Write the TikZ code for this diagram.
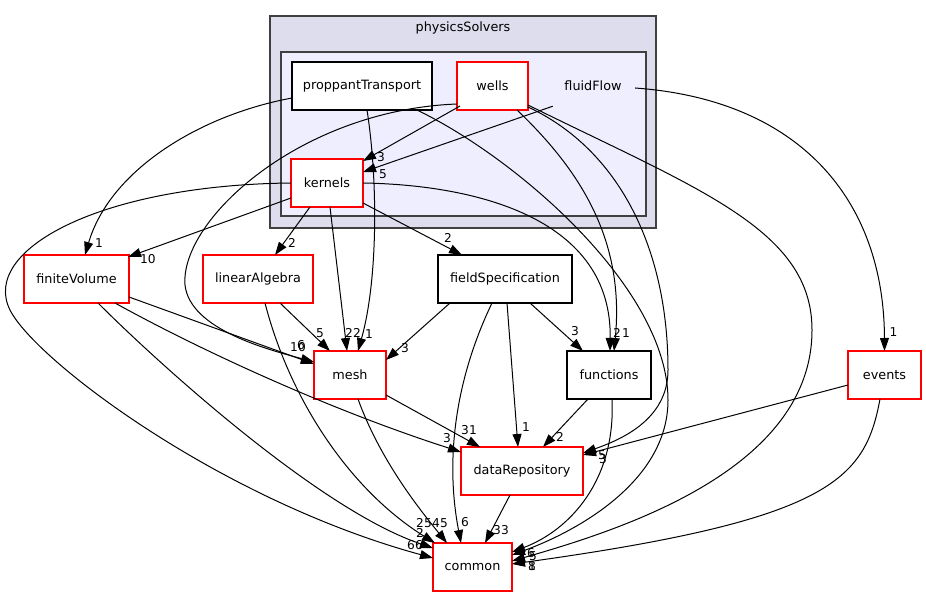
\documentclass[tikz,border=0pt]{standalone}
\usepackage{fontspec}
\setmainfont{DejaVu Sans}
\usetikzlibrary{positioning,arrows.meta}
\definecolor{clusterout}{HTML}{DDDDEE}
\definecolor{clusterin}{HTML}{EEEEFF}
\definecolor{clusterline}{HTML}{404040}
\tikzstyle{dirbox} = [draw=black, fill=white, line width=1.2pt, rectangle,
    minimum height=48pt, inner sep=0pt, outer sep=0pt, font=\fontsize{12.8}{15}\selectfont]
\tikzstyle{reddir} = [dirbox, draw=red]
\tikzstyle{cluster} = [draw=clusterline, line width=1.6pt]
\tikzstyle{dep} = [draw=black, line width=1pt, -{Triangle[length=13pt,width=9pt]}]
\tikzstyle{cnt} = [inner sep=0pt, font=\fontsize{12.2}{14}\selectfont]

\begin{document}
\begin{tikzpicture}[x=1pt,y=-1pt]
\useasboundingbox (0,0) rectangle (926,596);

% physicsSolvers / fluidFlow
\filldraw [cluster, fill=clusterout] (270,16) rectangle (656,228);
\node [cnt, font=\fontsize{12.8}{15}\selectfont] (psTitle) at (463,28) {physicsSolvers};
\filldraw [cluster, fill=clusterin] (281,52) rectangle (646,216);

\node [dirbox, minimum width=140pt] (proppantTransport) at (362,86) {proppantTransport};
\node [reddir, minimum width=71pt, right=25pt of proppantTransport] (wells) {wells};
\node [cnt, font=\fontsize{12.8}{15}\selectfont, minimum width=70pt, minimum height=48pt] (fluidFlow) at (593,86) {fluidFlow};
\node [reddir, minimum width=72pt] (kernels) at (327,183) {kernels};

\node [reddir, minimum width=105pt] (finiteVolume) at (76.5,279) {finiteVolume};
\node [reddir, minimum width=110pt, right=74pt of finiteVolume] (linearAlgebra) {linearAlgebra};
\node [dirbox, minimum width=134pt, right=125pt of linearAlgebra] (fieldSpecification) {fieldSpecification};

\node [reddir, minimum width=72pt] (mesh) at (350,375) {mesh};
\node [dirbox, minimum width=84pt, right=181pt of mesh] (functions) {functions};
\node [reddir, minimum width=73pt, right=197pt of functions] (events) {events};

\node [reddir, minimum width=122pt] (dataRepository) at (522,471) {dataRepository};
\node [reddir, minimum width=79pt] (common) at (472.5,567) {common};

% proppantTransport
\draw [dep] ([yshift=-12pt]proppantTransport.west) .. controls (200,115) and (110,170) .. ([xshift=8.5pt]finiteVolume.north) node [cnt, pos=1, xshift=14pt, yshift=12pt] {1};
\draw [dep] ([xshift=5pt]proppantTransport.south) .. controls (378,180) and (378,280) .. ([xshift=8pt]mesh.north) node [cnt, pos=1, xshift=11pt, yshift=17pt] {1};
\draw [dep] ([xshift=55pt]proppantTransport.south) .. controls (520,160) and (668,290) .. (668,400) .. controls (668,480) and (580,530) .. ([yshift=12pt]common.east) node [cnt, pos=1, xshift=21pt, yshift=-1pt] {5};

% wells and fluidFlow
\draw [dep] ([xshift=3pt,yshift=4pt]wells.south west) -- ([yshift=-2pt]kernels.north east) node [cnt, pos=1, xshift=18pt, yshift=4pt] {3};
\draw [dep] ([xshift=-5pt,yshift=4pt]fluidFlow.south west) -- ([yshift=11pt]kernels.east) node [cnt, pos=1, xshift=20pt, yshift=-2pt] {5};
\draw [dep] ([yshift=6pt]wells.south west) .. controls (300,110) and (180,220) .. (185,285) .. controls (190,330) and (270,350) .. ([yshift=13pt]mesh.west) node [cnt, pos=1, xshift=-13pt, yshift=17pt] {6};
\draw [dep] ([xshift=24.5pt]wells.south) .. controls (580,170) and (625,240) .. ([xshift=5pt]functions.north) node [cnt, pos=1, xshift=12pt, yshift=18pt] {1};
\draw [dep] ([yshift=3pt]wells.south east) .. controls (620,150) and (668,250) .. (668,370) .. controls (668,420) and (620,440) .. ([yshift=18pt]dataRepository.east) node [cnt, pos=1, xshift=19pt, yshift=-2pt] {5};
\draw [dep] ([yshift=5pt]wells.south east) .. controls (700,190) and (812,230) .. (812,330) .. controls (812,470) and (620,530) .. ([yshift=6pt]common.east) node [cnt, pos=1, xshift=20pt, yshift=-5pt] {1};
\draw [dep] ([xshift=7pt,yshift=-2pt]fluidFlow.east) .. controls (800,100) and (884,200) .. (events.north) node [cnt, pos=1, xshift=9pt, yshift=19pt] {1};

% kernels
\draw [dep] ([yshift=-15pt]kernels.west) -- ([xshift=-1pt,yshift=-2pt]finiteVolume.north east) node [cnt, pos=1, xshift=20pt, yshift=-2pt] {10};
\draw [dep] ([xshift=-17pt]kernels.south) -- ([xshift=17pt]linearAlgebra.north) node [cnt, pos=1, xshift=17pt, yshift=12pt] {2};
\draw [dep] ([xshift=3pt]kernels.south) -- ([xshift=-3pt]mesh.north) node [cnt, pos=1, xshift=6pt, yshift=18pt] {22};
\draw [dep] ([yshift=-20pt]kernels.east) -- ([xshift=-43pt]fieldSpecification.north) node [cnt, pos=1, xshift=-14pt, yshift=17pt] {2};
\draw [dep] (kernels.east) .. controls (480,185) and (612,220) .. ([xshift=1pt]functions.north) node [cnt, pos=1, xshift=7pt, yshift=18pt] {2};
\draw [dep] (kernels.west) .. controls (100,185) and (-20,250) .. (10,310) .. controls (35,360) and (220,500) .. ([yshift=9pt]common.west) node [cnt, pos=1, xshift=-18pt, yshift=13pt] {66};

% finiteVolume, linearAlgebra
\draw [dep] ([yshift=-18pt]finiteVolume.east) -- ([yshift=11pt]mesh.west) node [cnt, pos=1, xshift=-16pt, yshift=17pt] {10};
\draw [dep] ([xshift=38.5pt]finiteVolume.south) .. controls (200,350) and (330,410) .. ([yshift=19pt]dataRepository.west) node [cnt, pos=1, xshift=-14pt, yshift=14pt] {3};
\draw [dep] ([xshift=21.5pt]finiteVolume.south) .. controls (160,365) and (320,510) .. ([yshift=19pt]common.west) node [cnt, pos=1, xshift=-13pt, yshift=15pt] {2};
\draw [dep] ([xshift=22pt]linearAlgebra.south) -- ([xshift=-20pt]mesh.north) node [cnt, pos=1, xshift=-10pt, yshift=18pt] {5};
\draw [dep] ([xshift=7pt]linearAlgebra.south) .. controls (290,400) and (350,490) .. ([xshift=2pt]common.north west) node [cnt, pos=1, xshift=-11pt, yshift=20pt] {25};

% fieldSpecification
\draw [dep] ([xshift=-55pt]fieldSpecification.south) -- ([yshift=15pt]mesh.east) node [cnt, pos=1, xshift=19pt, yshift=12pt] {3};
\draw [dep] ([xshift=25pt]fieldSpecification.south) -- ([xshift=-26pt]functions.north) node [cnt, pos=1, xshift=-8pt, yshift=20pt] {3};
\draw [dep] ([xshift=2pt]fieldSpecification.south) -- ([xshift=-4pt]dataRepository.north) node [cnt, pos=1, xshift=8pt, yshift=20pt] {1};
\draw [dep] ([xshift=-13pt]fieldSpecification.south) .. controls (455,380) and (445,460) .. ([xshift=-11.5pt]common.north) node [cnt, pos=1, xshift=4pt, yshift=21pt] {6};

% mesh, functions, events, dataRepository
\draw [dep] ([yshift=-20pt]mesh.east) -- ([xshift=-42pt]dataRepository.north) node [cnt, pos=1, xshift=-11pt, yshift=17pt] {31};
\draw [dep] ([xshift=8pt]mesh.south) .. controls (380,460) and (420,510) .. ([xshift=14pt]common.north west) node [cnt, pos=1, xshift=-7pt, yshift=20pt] {45};
\draw [dep] ([xshift=-21pt]functions.south) -- ([xshift=21pt]dataRepository.north) node [cnt, pos=1, xshift=17pt, yshift=10pt] {2};
\draw [dep] ([xshift=3pt]functions.south) .. controls (616,480) and (570,530) .. ([yshift=15pt]common.east) node [cnt, pos=1, xshift=19pt, yshift=-1pt] {6};
\draw [dep] ([yshift=-10pt]events.west) -- ([yshift=16pt]dataRepository.east) node [cnt, pos=1, xshift=20pt, yshift=-4pt] {3};
\draw [dep] ([xshift=-4.5pt]events.south) .. controls (865,480) and (830,520) .. ([yshift=3pt]common.east) node [cnt, pos=1, xshift=20pt, yshift=-2pt] {8};
\draw [dep] ([xshift=-12pt]dataRepository.south) -- ([xshift=12.5pt]common.north) node [cnt, pos=1, xshift=16pt, yshift=13pt] {33};

\end{tikzpicture}
\end{document}
